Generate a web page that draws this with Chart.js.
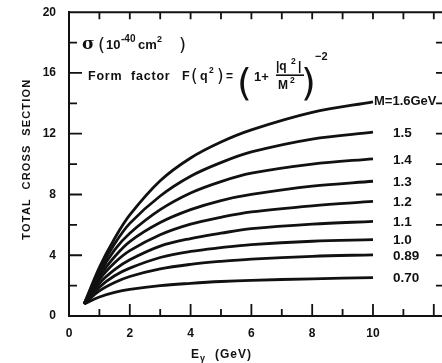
<!DOCTYPE html>
<html><head><meta charset="utf-8">
<script src="https://cdn.jsdelivr.net/npm/chart.js@4/dist/chart.umd.min.js"></script>
<style>html,body{margin:0;padding:0;background:#fff}#wrap{width:442px;height:363px}</style>
</head><body><div id="wrap"><canvas id="c" width="442" height="363"></canvas></div>
<script>
// Photon energy E (GeV)
const energies = [0.5, 1, 1.5, 2, 3, 4, 5, 6, 8, 10];
// Curve labels (mass parameter M)
const massLabels = ["M=1.6GeV", "1.5", "1.4", "1.3", "1.2", "1.1", "1.0", "0.89", "0.70"];
// Total cross section (10^-40 cm^2) for each M
const sigmaM16 = [0.8, 3.2, 5.1, 6.65, 8.9, 10.4, 11.45, 12.25, 13.4, 14.1];
const sigmaM15 = [0.8, 3.0, 4.75, 6.1, 7.9, 9.2, 10.1, 10.8, 11.65, 12.1];
const sigmaM14 = [0.8, 2.8, 4.35, 5.45, 7.0, 8.1, 8.85, 9.4, 10.0, 10.35];
const sigmaM13 = [0.8, 2.6, 3.9, 4.9, 6.15, 7.0, 7.6, 8.0, 8.55, 8.87];
const sigmaM12 = [0.8, 2.4, 3.5, 4.3, 5.35, 6.05, 6.5, 6.85, 7.25, 7.54];
const sigmaM11 = [0.8, 2.15, 3.05, 3.7, 4.6, 5.1, 5.45, 5.75, 6.05, 6.23];
const sigmaM10 = [0.8, 1.9, 2.65, 3.15, 3.85, 4.25, 4.5, 4.7, 4.92, 5.03];
const sigmaM089 = [0.8, 1.65, 2.2, 2.6, 3.1, 3.4, 3.6, 3.75, 3.93, 4.03];
const sigmaM070 = [0.8, 1.25, 1.55, 1.75, 2.0, 2.15, 2.27, 2.35, 2.45, 2.53];
const seriesList = [sigmaM16, sigmaM15, sigmaM14, sigmaM13, sigmaM12, sigmaM11, sigmaM10, sigmaM089, sigmaM070];
// Tick labels
const xTickLabels = [0, 2, 4, 6, 8, 10];
const yTickLabels = [0, 4, 8, 12, 16, 20];

const FONT = '"Liberation Sans", Arial, sans-serif';
const INK = '#111';

const datasets = seriesList.map((vals, i) => ({
  label: massLabels[i],
  data: energies.map((e, j) => ({x: e, y: vals[j]})),
  borderColor: INK,
  borderWidth: 2.8,
  pointRadius: 0,
  fill: false,
  tension: 0.35
}));

function txt(ctx, s, x, y, font) { ctx.font = font; ctx.fillText(s, x, y); }

const decor = {
  id: 'decor',
  afterDraw(chart) {
    const ctx = chart.ctx;
    const xs = chart.scales.x, ys = chart.scales.y;
    const a = chart.chartArea;
    ctx.save();
    ctx.strokeStyle = INK;
    ctx.fillStyle = INK;
    ctx.lineWidth = 2;
    // frame top
    ctx.beginPath();
    ctx.moveTo(a.left - 1, a.top); ctx.lineTo(a.right + 2, a.top);
    ctx.stroke();
    ctx.lineWidth = 1.8;
    // bottom & top ticks (every 1 GeV)
    for (let v = 1; v <= 12; v++) {
      const px = xs.getPixelForValue(v);
      const major = v % 2 === 0;
      ctx.beginPath();
      ctx.moveTo(px, a.bottom); ctx.lineTo(px, a.bottom - (major ? 12 : 7));
      ctx.moveTo(px, a.top); ctx.lineTo(px, a.top + 7);
      ctx.stroke();
    }
    // left & right ticks (every 2 units)
    for (let v = 2; v < 20; v += 2) {
      const py = ys.getPixelForValue(v);
      const major = v % 4 === 0;
      ctx.beginPath();
      ctx.moveTo(a.left, py); ctx.lineTo(a.left + (major ? 13 : 8), py);
      ctx.moveTo(a.right, py); ctx.lineTo(a.right - 6, py);
      ctx.stroke();
    }
    // curve labels
    ctx.textBaseline = 'middle';
    ctx.textAlign = 'left';
    seriesList.forEach((vals, i) => {
      const last = vals.length - 1;
      const px = xs.getPixelForValue(energies[last]);
      const py = ys.getPixelForValue(vals[last]);
      if (i === 0) {
        txt(ctx, massLabels[i], px + 1, py, 'bold 13px ' + FONT);
      } else {
        txt(ctx, massLabels[i], px + 20, py + 1, 'bold 13.5px ' + FONT);
      }
    });
    // annotations (positioned relative to the plot frame)
    const L = a.left, T = a.top;
    ctx.textBaseline = 'alphabetic';
    const P = '"DejaVu Sans", sans-serif';
    txt(ctx, 'σ', L + 13, T + 37, 'bold 17px "DejaVu Serif", serif');
    txt(ctx, '(', L + 29, T + 39, '18px ' + P);
    txt(ctx, '10', L + 37, T + 37, 'bold 13px ' + FONT);
    txt(ctx, '-40', L + 52, T + 30, 'bold 10px ' + FONT);
    txt(ctx, 'cm', L + 69, T + 37, 'bold 13px ' + FONT);
    txt(ctx, '2', L + 88, T + 30, 'bold 9px ' + FONT);
    txt(ctx, ')', L + 110, T + 39, '18px ' + P);

    ctx.letterSpacing = '0.8px';
    txt(ctx, 'Form  factor', L + 19, T + 68, 'bold 12.5px ' + FONT);
    ctx.letterSpacing = '0px';
    txt(ctx, 'F', L + 113, T + 68, 'bold 12.5px ' + FONT);
    txt(ctx, '(', L + 122, T + 70, '17px ' + P);
    txt(ctx, 'q', L + 131, T + 68, 'bold 12.5px ' + FONT);
    txt(ctx, '2', L + 140, T + 61, 'bold 8.5px ' + FONT);
    txt(ctx, ')', L + 148, T + 70, '17px ' + P);
    txt(ctx, '=', L + 157, T + 68, 'bold 12px ' + FONT);
    txt(ctx, '(', L + 168, T + 83, '38px ' + P);
    txt(ctx, '1+', L + 185, T + 69, 'bold 13px ' + FONT);
    txt(ctx, '|q', L + 207, T + 58, 'bold 12px ' + FONT);
    txt(ctx, '2', L + 222, T + 52, 'bold 8.5px ' + FONT);
    txt(ctx, '|', L + 229, T + 58, 'bold 12px ' + FONT);
    ctx.lineWidth = 1.6;
    ctx.beginPath(); ctx.moveTo(L + 207, T + 63); ctx.lineTo(L + 235, T + 63); ctx.stroke();
    txt(ctx, 'M', L + 209, T + 77, 'bold 12px ' + FONT);
    txt(ctx, '2', L + 221, T + 71, 'bold 8.5px ' + FONT);
    txt(ctx, ')', L + 232, T + 83, '38px ' + P);
    txt(ctx, '\u22122', L + 246, T + 48, 'bold 11px ' + FONT);

    // x axis title
    const midX = (xs.getPixelForValue(xTickLabels[0]) + xs.getPixelForValue(xTickLabels[xTickLabels.length - 1])) / 2;
    txt(ctx, 'E', midX - 30, a.bottom + 42, 'bold 12px ' + FONT);
    txt(ctx, '\u03B3', midX - 21, a.bottom + 45, 'bold 9px ' + FONT);
    ctx.letterSpacing = '1px';
    txt(ctx, '(GeV)', midX - 6, a.bottom + 42, 'bold 12px ' + FONT);
    // y axis title
    ctx.save();
    ctx.translate(L - 42, (a.top + a.bottom) / 2 - 5);
    ctx.rotate(-Math.PI / 2);
    ctx.textAlign = 'center';
    ctx.textBaseline = 'middle';
    ctx.letterSpacing = '1.2px';
    txt(ctx, 'TOTAL  CROSS  SECTION', 0, 0, 'bold 11px ' + FONT);
    ctx.restore();
    ctx.restore();
  }
};

new Chart(document.getElementById('c'), {
  type: 'line',
  data: { datasets },
  plugins: [decor],
  options: {
    responsive: false,
    animation: false,
    events: [],
    layout: { padding: { top: 10, right: 0, bottom: 0, left: 0 } },
    plugins: { legend: { display: false }, tooltip: { enabled: false } },
    scales: {
      x: {
        type: 'linear',
        min: 0, max: 12.27,
        afterFit(s) { s.height = 47; },
        border: { display: true, color: INK, width: 2 },
        grid: { display: false },
        ticks: {
          stepSize: 2, includeBounds: false, autoSkip: false, maxRotation: 0,
          color: INK, padding: 2,
          font: { family: FONT, size: 12, weight: 'bold' },
          callback: v => xTickLabels.includes(v) ? String(v) : ''
        }
      },
      y: {
        type: 'linear',
        min: 0, max: 20,
        afterFit(s) { s.width = 69; },
        border: { display: true, color: INK, width: 2 },
        grid: { display: false },
        ticks: {
          stepSize: 4, color: INK, padding: 5,
          font: { family: FONT, size: 12, weight: 'bold' },
          callback: v => yTickLabels.includes(v) ? String(v) : ''
        }
      }
    }
  }
});
</script></body></html>
